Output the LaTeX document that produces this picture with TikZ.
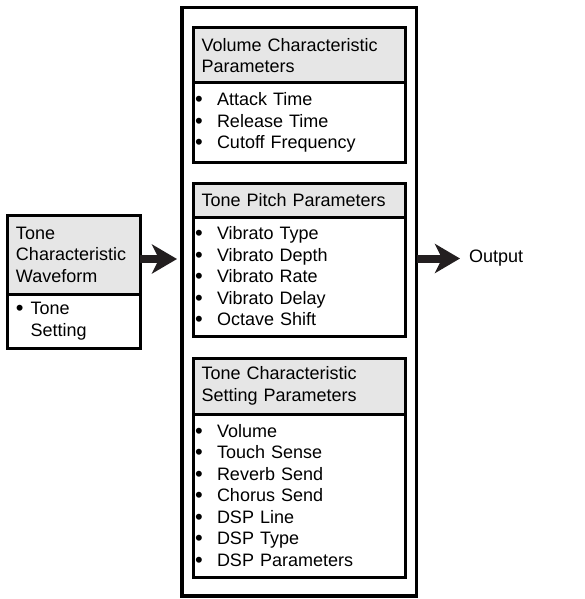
\documentclass[tikz,border=0pt]{standalone}
\usepackage{fontspec}
\setmainfont{Liberation Sans}
\usetikzlibrary{arrows.meta,positioning}
\definecolor{HeadFill}{HTML}{E6E6E6}
\definecolor{Ink}{HTML}{231F20}
\newcommand{\itm}[2][21pt]{\makebox[#1][l]{\raisebox{-0.9pt}[0pt][0pt]{\scalebox{1.22}{\textbullet}}}#2}
\tikzset{
  frame/.style={draw=black,line width=3.2pt,outer sep=0pt,minimum width=234.5pt,minimum height=588.5pt,anchor=north west},
  head/.style={draw=black,fill=HeadFill,line width=3pt,outer sep=0pt,align=left,inner xsep=8pt,inner ysep=0pt,text width=195.5pt,font=\fontsize{18pt}{21.5pt}\selectfont},
  list/.style={draw=black,fill=white,line width=3pt,outer sep=0pt,align=left,inner xsep=1.5pt,inner ysep=0pt,text width=208.5pt,font=\fontsize{18pt}{21.5pt}\selectfont},
  lefthead/.style={head,inner xsep=8.5pt,text width=115.5pt},
  leftlist/.style={list,inner xsep=8.5pt,text width=115.5pt},
  flow/.style={-{Stealth[length=25pt,width=29pt,inset=7pt]},draw=Ink,line width=8pt},
  label/.style={inner sep=0pt,anchor=west,font=\fontsize{18pt}{21.5pt}\selectfont}
}
\begin{document}
\begin{tikzpicture}[x=1pt,y=-1pt]
  \useasboundingbox (0,0) rectangle (585,599);
  % parameter stack
  \node[frame] (frame) at (182,7.5) {};
  \node[head,minimum height=55pt,anchor=north west] (volhead) at (193.5,28) {Volume Characteristic\\Parameters};
  \node[list,minimum height=79pt,below=0pt of volhead] (vollist) {\itm[22pt]{Attack Time}\\\itm[22pt]{Release Time}\\\itm[22pt]{Cutoff Frequency}};
  \node[head,minimum height=34pt,below=21pt of vollist] (pitchhead) {Tone Pitch Parameters};
  \node[list,minimum height=119pt,below=0pt of pitchhead] (pitchlist) {\itm[22pt]{Vibrato Type}\\\itm[22pt]{Vibrato Depth}\\\itm[22pt]{Vibrato Rate}\\\itm[22pt]{Vibrato Delay}\\\itm[22pt]{Octave Shift}};
  \node[head,minimum height=56pt,below=22pt of pitchlist] (sethead) {Tone Characteristic\\Setting Parameters};
  \node[list,minimum height=163pt,below=0pt of sethead] (setlist) {\itm[22pt]{Volume}\\\itm[22pt]{Touch Sense}\\\itm[22pt]{Reverb Send}\\\itm[22pt]{Chorus Send}\\\itm[22pt]{DSP Line}\\\itm[22pt]{DSP Type}\\\itm[22pt]{DSP Parameters}};
  % waveform source
  \node[lefthead,minimum height=79pt,anchor=north west] (wavehead) at (7.5,215) {Tone\\Characteristic\\Waveform};
  \node[leftlist,minimum height=54pt,below=0pt of wavehead] (wavelist) {\itm[14.5pt]{Tone}\\\hspace*{14.5pt}Setting};
  \node[label] (output) at (469,258.5) {Output};
  % connectors
  \coordinate (feed) at ([yshift=-4.5pt]wavehead.east);
  \draw[flow,shorten >=5pt] (feed) -- (feed -| frame.west);
  \draw[flow,shorten >=9pt] (output.west -| frame.east) -- (output.west);
\end{tikzpicture}
\end{document}
